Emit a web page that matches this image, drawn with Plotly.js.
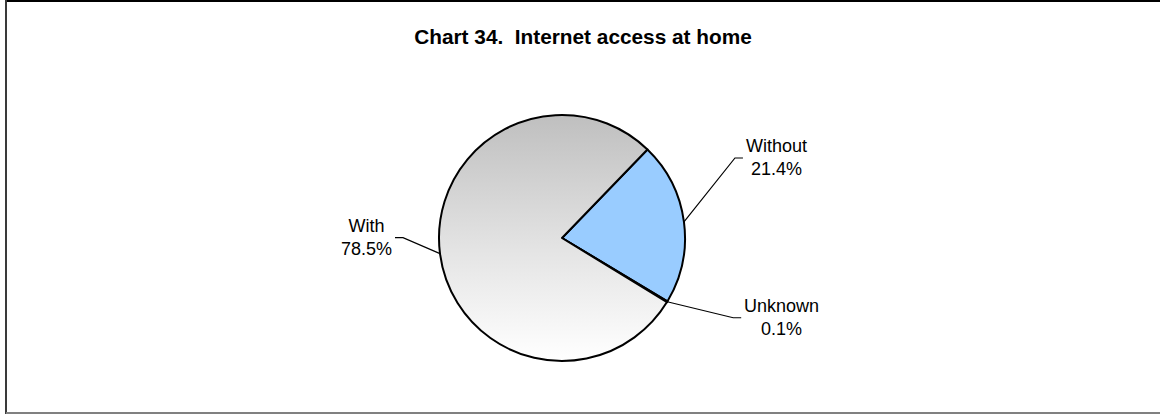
<!DOCTYPE html>
<html>
<head>
<meta charset="utf-8">
<script src="https://cdn.plot.ly/plotly-3.0.1.min.js"></script>
<style>
  html, body { margin: 0; padding: 0; background: #ffffff; }
  #chart { width: 1160px; height: 414px; }
</style>
</head>
<body>
<div id="chart"></div>
<script>
// ---- data ----
const categories = ['Without', 'Unknown', 'With'];
const shares = [21.4, 0.1, 78.5];
const shareLabels = ['21.4%', '0.1%', '78.5%'];
const titleText = 'Chart 34.\u00a0\u00a0Internet access at home';

// ---- styling / layout config ----
const W = 1160, H = 414;
const pieCx = 562, pieCy = 238, pieR = 123;
const rotationDeg = 44;
const sliceColors = ['#99ccff', '#e6e6e6', '#d9d9d9'];
// elbow offsets of leader lines (px, relative to the slice's edge midpoint)
const elbowOffsets = [[51, -64], [66, 16], [-37, -16]];
const stubLen = 8;

const px = x => x / W;
const py = y => 1 - y / H;

const total = shares.reduce((a, b) => a + b, 0);
let cum = rotationDeg;
const shapes = [];
const annotations = [];

// frame of the chart area
shapes.push({type: 'line', xref: 'paper', yref: 'paper', x0: px(6), x1: px(1160), y0: py(1), y1: py(1), line: {color: '#000000', width: 2}});
shapes.push({type: 'line', xref: 'paper', yref: 'paper', x0: px(6), x1: px(6), y0: py(0), y1: py(414), line: {color: '#3a3a3a', width: 2}});
shapes.push({type: 'line', xref: 'paper', yref: 'paper', x0: px(6), x1: px(1160), y0: py(413), y1: py(413), line: {color: '#808080', width: 2}});

categories.forEach((cat, i) => {
  const span = shares[i] / total * 360;
  const mid = (cum + span / 2) * Math.PI / 180;
  cum += span;
  const ex = pieCx + pieR * Math.sin(mid);
  const ey = pieCy - pieR * Math.cos(mid);
  const bx = ex + elbowOffsets[i][0];
  const by = ey + elbowOffsets[i][1];
  const right = Math.sin(mid) >= 0;
  const sx = bx + (right ? stubLen : -stubLen);
  shapes.push({
    type: 'path', xref: 'paper', yref: 'paper',
    path: `M ${px(ex)} ${py(ey)} L ${px(bx)} ${py(by)} L ${px(sx)} ${py(by)}`,
    line: {color: '#000000', width: 1.2}
  });
  annotations.push({
    xref: 'paper', yref: 'paper',
    x: px(sx + (right ? 1 : -1)), y: py(by),
    xanchor: right ? 'left' : 'right', yanchor: 'middle',
    align: 'center', showarrow: false,
    text: cat + '<br>' + shareLabels[i],
    font: {family: 'Arial, Liberation Sans, sans-serif', size: 18, color: '#000000'}
  });
});

const trace = {
  type: 'pie',
  labels: categories,
  values: shares,
  sort: false,
  direction: 'clockwise',
  rotation: rotationDeg,
  textinfo: 'none',
  hoverinfo: 'none',
  showlegend: false,
  marker: {colors: sliceColors, line: {color: '#000000', width: 2}},
  domain: {x: [px(pieCx - pieR), px(pieCx + pieR)], y: [py(pieCy + pieR), py(pieCy - pieR)]}
};

const layout = {
  width: W, height: H,
  margin: {l: 0, r: 0, t: 0, b: 0},
  paper_bgcolor: '#ffffff',
  title: {
    text: '<b>' + titleText + '</b>',
    x: px(583), xanchor: 'center',
    y: py(36.5), yanchor: 'middle',
    font: {family: 'Arial, Liberation Sans, sans-serif', size: 20.8, color: '#000000'}
  },
  shapes: shapes,
  annotations: annotations
};

Plotly.newPlot('chart', [trace], layout, {staticPlot: true, displayModeBar: false}).then(gd => {
  const svgNS = 'http://www.w3.org/2000/svg';
  const svg = gd.querySelector('svg.main-svg');
  let defs = svg.querySelector('defs');
  if (!defs) { defs = document.createElementNS(svgNS, 'defs'); svg.insertBefore(defs, svg.firstChild); }
  const grad = document.createElementNS(svgNS, 'linearGradient');
  grad.setAttribute('id', 'withGrad');
  grad.setAttribute('x1', '0'); grad.setAttribute('y1', '0');
  grad.setAttribute('x2', '0'); grad.setAttribute('y2', '1');
  [['0', '#bfbfbf'], ['0.55', '#e4e4e4'], ['1', '#ffffff']].forEach(([o, c]) => {
    const s = document.createElementNS(svgNS, 'stop');
    s.setAttribute('offset', o); s.setAttribute('stop-color', c);
    grad.appendChild(s);
  });
  defs.appendChild(grad);
  const slices = gd.querySelectorAll('g.slice path.surface');
  const idx = categories.indexOf('With');
  if (slices[idx]) slices[idx].style.fill = 'url(#withGrad)';
});
</script>
</body>
</html>
